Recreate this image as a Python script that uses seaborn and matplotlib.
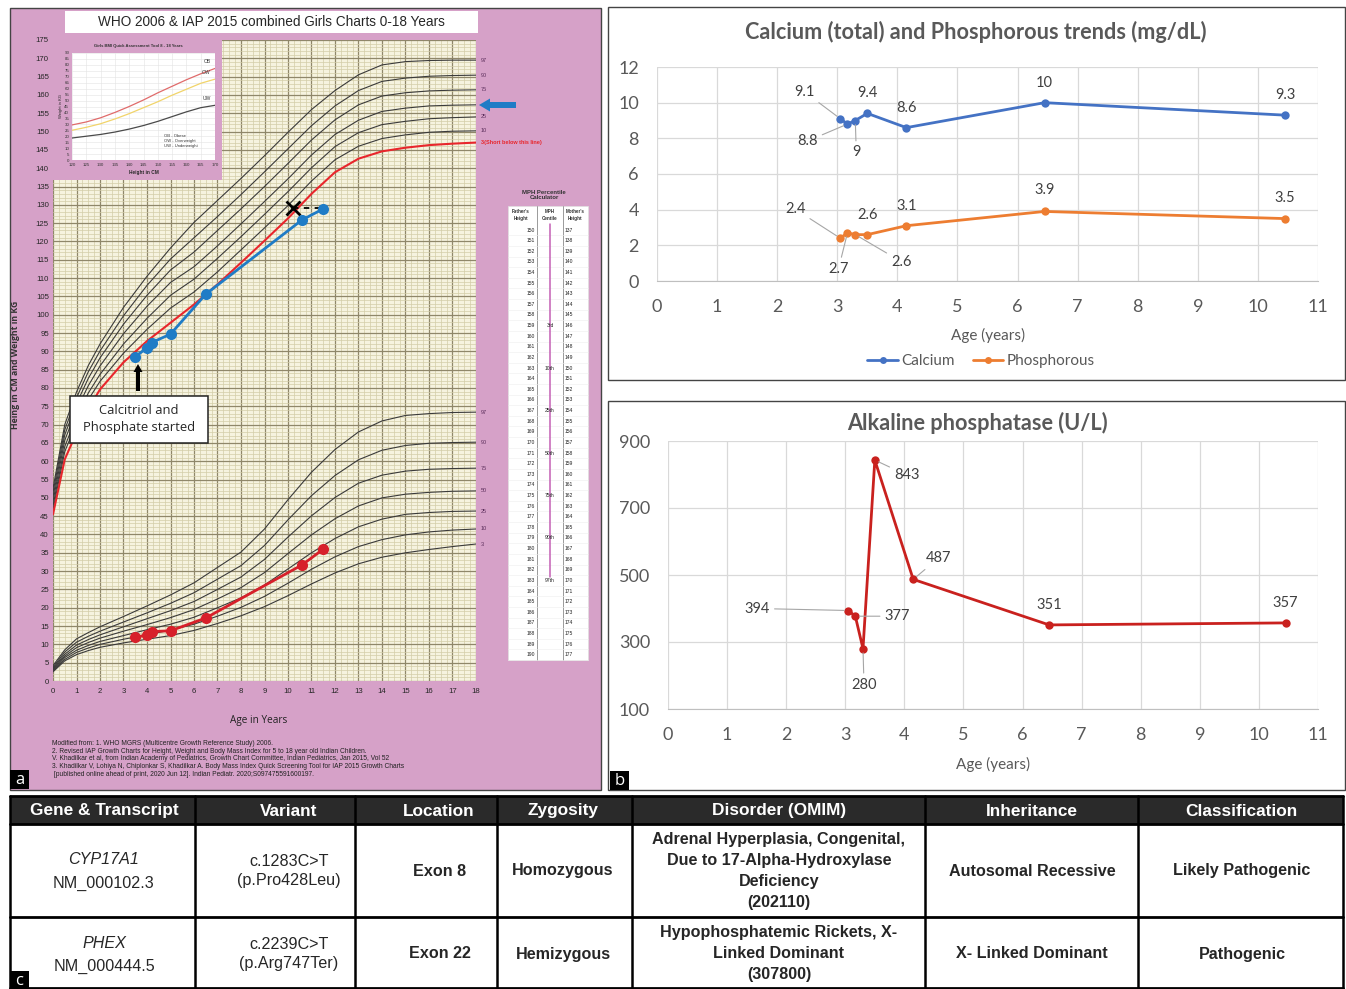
import matplotlib
matplotlib.use("Agg")
import matplotlib.pyplot as plt
import seaborn as sns
import pandas as pd
from matplotlib import font_manager
from matplotlib.patches import Rectangle, FancyArrow
from matplotlib.lines import Line2D
from matplotlib.ticker import MultipleLocator

# ---------------- data : growth chart (panel a) ----------------
ages = [0, 0.5, 1, 1.5, 2, 3, 4, 5, 6, 7, 8, 9, 10, 11, 12, 13, 14, 15, 16, 17, 18]
centiles = ["3", "10", "25", "50", "75", "90", "97"]

h3 = [45.5, 60.5, 67.8, 74.3, 79.6, 87.0, 92.8, 97.8, 102.8, 108.3, 114.2, 120.2, 126.3, 133.0, 138.9, 142.6, 144.6, 145.6, 146.3, 146.7, 147.0]
h10 = [46.8, 62.6, 70.5, 76.8, 81.8, 89.5, 96.0, 101.8, 106.2, 111.7, 117.7, 123.7, 129.8, 136.5, 142.3, 146.0, 148.1, 149.1, 149.8, 150.1, 150.2]
h25 = [47.9, 64.0, 72.1, 78.6, 83.7, 92.0, 99.0, 105.3, 109.7, 115.4, 121.3, 127.4, 133.6, 140.1, 145.9, 149.7, 151.9, 152.8, 153.5, 153.8, 154.0]
h50 = [49.1, 65.7, 74.0, 80.6, 86.0, 94.8, 102.3, 108.8, 113.1, 118.8, 124.8, 130.9, 137.1, 143.6, 149.2, 153.1, 155.5, 156.4, 157.0, 157.2, 157.3]
h75 = [50.3, 67.2, 75.7, 82.6, 88.2, 97.4, 105.3, 112.2, 117.1, 123.0, 128.9, 135.0, 141.3, 147.7, 153.2, 157.3, 159.7, 160.6, 161.1, 161.3, 161.4]
h90 = [51.5, 68.6, 77.3, 84.4, 90.1, 99.7, 108.0, 115.2, 121.0, 126.8, 132.8, 139.0, 145.3, 151.6, 157.0, 161.2, 163.7, 164.6, 165.1, 165.3, 165.4]
h97 = [52.6, 70.0, 78.9, 86.1, 92.0, 102.0, 110.5, 118.2, 125.2, 131.2, 137.2, 143.4, 149.8, 156.0, 161.2, 165.5, 168.2, 169.1, 169.4, 169.5, 169.5]

w3 = [2.5, 5.5, 7.2, 8.3, 9.2, 10.4, 11.4, 12.4, 13.8, 15.7, 17.8, 20.3, 23.3, 26.5, 29.5, 32.0, 33.8, 35.0, 35.9, 36.7, 37.4]
w10 = [2.7, 5.9, 7.8, 9.0, 10.0, 11.4, 12.6, 13.9, 15.5, 17.7, 20.1, 23.1, 26.7, 30.5, 33.9, 36.7, 38.6, 39.9, 40.7, 41.2, 41.5]
w25 = [3.0, 6.4, 8.4, 9.7, 10.8, 12.4, 14.0, 15.5, 17.4, 20.0, 22.7, 26.2, 30.6, 35.0, 38.9, 42.1, 44.2, 45.5, 46.0, 46.3, 46.4]
w50 = [3.25, 6.8, 9.1, 10.5, 11.7, 13.6, 15.4, 17.3, 19.5, 22.4, 25.5, 29.6, 34.8, 39.9, 44.3, 47.8, 50.0, 51.0, 51.5, 51.8, 51.9]
w75 = [3.5, 7.3, 9.8, 11.3, 12.6, 14.8, 17.0, 19.2, 21.7, 25.0, 28.4, 33.2, 39.3, 45.1, 50.1, 54.0, 56.2, 57.3, 57.8, 58.0, 58.1]
w90 = [3.8, 7.9, 10.6, 12.2, 13.6, 16.1, 18.6, 21.2, 24.1, 27.8, 31.5, 37.0, 44.0, 50.6, 56.1, 60.4, 63.0, 64.3, 64.9, 65.1, 65.2]
w97 = [4.2, 8.5, 11.5, 13.2, 14.8, 17.6, 20.5, 23.5, 26.8, 31.0, 35.2, 41.5, 49.5, 57.0, 63.2, 68.0, 71.0, 72.5, 73.0, 73.3, 73.4]

visit_age = [3.5, 4.0, 4.2, 5.0, 6.5, 10.6, 11.5]
patient_height = [88.5, 91.0, 92.4, 94.7, 105.6, 125.9, 128.9]
patient_weight = [11.9, 12.6, 13.5, 13.7, 17.2, 31.7, 36.0]
target_age = [10.2, 11.5]
target_height = [129.0, 129.0]

# BMI quick assessment inset
bmi_height = [120, 125, 130, 135, 140, 145, 150, 155, 160, 165, 170]
bmi_ob = [29.5, 32.0, 35.5, 40.0, 45.0, 50.5, 56.5, 62.0, 67.5, 72.5, 77.0]
bmi_ow = [25.0, 27.5, 30.5, 34.5, 39.0, 44.0, 49.0, 54.5, 59.5, 64.5, 68.0]
bmi_uw = [18.5, 20.0, 21.5, 23.5, 26.0, 29.0, 32.5, 36.5, 40.5, 44.0, 46.0]

# MPH calculator table
father_h = list(range(150, 191))
mother_h = list(range(137, 178))
mph_rows = {159: "3rd", 163: "10th", 167: "25th", 171: "50th", 175: "75th", 179: "90th", 183: "97th"}

# ---------------- data : lab trends (panel b) ----------------
lab_age = [3.05, 3.17, 3.3, 3.5, 4.15, 6.45, 10.45]
calcium = [9.1, 8.8, 9.0, 9.4, 8.6, 10.0, 9.3]
phosphorous = [2.4, 2.7, 2.6, 2.6, 3.1, 3.9, 3.5]
alp = [394, 377, 280, 843, 487, 351, 357]

# ---------------- data : genetics table (panel c) ----------------
table_header = ["Gene & Transcript", "Variant", "Location", "Zygosity",
                "Disorder (OMIM)", "Inheritance", "Classification"]
row_cyp = ["CYP17A1\nNM_000102.3", "c.1283C>T\n(p.Pro428Leu)", "Exon 8", "Homozygous",
           "Adrenal Hyperplasia, Congenital,\nDue to 17-Alpha-Hydroxylase\nDeficiency\n(202110)",
           "Autosomal Recessive", "Likely Pathogenic"]
row_phex = ["PHEX\nNM_000444.5", "c.2239C>T\n(p.Arg747Ter)", "Exon 22", "Hemizygous",
            "Hypophosphatemic Rickets, X-\nLinked Dominant\n(307800)",
            "X- Linked Dominant", "Pathogenic"]

# ---------------- layout / style ----------------
sns.set_style("white")
plt.rcParams["font.family"] = ["Liberation Sans", "DejaVu Sans"]
names = {f.name for f in font_manager.fontManager.ttflist}
NARROW = "Liberation Sans Narrow" if "Liberation Sans Narrow" in names else "Liberation Sans"
TFS = 13.5 if NARROW == "Liberation Sans Narrow" else 11.6
LAB_FONT = ["Lato", "DejaVu Sans"]

PINK = "#d6a1c8"
BLUE = "#1f7cc6"
RED = "#d7202a"
GRAY_TXT = "#595959"

W, H = 1346, 989
fig = plt.figure(figsize=(W / 100, H / 100), dpi=100)


def rect(x0, y0, x1, y1):
    return [x0 / W, 1 - y1 / H, (x1 - x0) / W, (y1 - y0) / H]


def pixel_axes(label, z):
    a = fig.add_axes([0, 0, 1, 1], label=label, zorder=z)
    a.set_xlim(0, W)
    a.set_ylim(H, 0)
    a.axis("off")
    return a


bg = pixel_axes("bg", 0)
ov = pixel_axes("ov", 20)

# panel backgrounds
bg.add_patch(Rectangle((10, 8), 591, 782, facecolor=PINK, edgecolor="#444444", lw=1))
bg.add_patch(Rectangle((608, 7), 737, 373, facecolor="white", edgecolor="#444444", lw=1))
bg.add_patch(Rectangle((608, 401), 737, 389, facecolor="white", edgecolor="#444444", lw=1))

# ---------------- panel a : growth chart ----------------
gax = fig.add_axes(rect(53, 40, 476, 681), zorder=2)
gax.set_facecolor("#f6f3df")

h_long = pd.DataFrame({"age": ages * 6,
                       "value": h10 + h25 + h50 + h75 + h90 + h97,
                       "curve": sum([[c] * len(ages) for c in centiles[1:]], [])})
w_long = pd.DataFrame({"age": ages * 7,
                       "value": w3 + w10 + w25 + w50 + w75 + w90 + w97,
                       "curve": sum([[c] * len(ages) for c in centiles], [])})
sns.lineplot(data=h_long, x="age", y="value", units="curve", estimator=None,
             color="#3a3a3a", lw=0.8, ax=gax, legend=False)
sns.lineplot(data=w_long, x="age", y="value", units="curve", estimator=None,
             color="#3a3a3a", lw=0.8, ax=gax, legend=False)
sns.lineplot(x=ages, y=h3, color="#e8262c", lw=1.5, ax=gax)

gax.plot(target_age, target_height, ls=(0, (3, 3)), color="black", lw=1.3, zorder=4)
gax.plot(target_age[0], target_height[0], marker="x", ms=10, mew=2, color="black", zorder=5)
sns.lineplot(x=visit_age, y=patient_height, color=BLUE, lw=2, marker="o", ms=8,
             markeredgewidth=0, ax=gax, zorder=6)
sns.lineplot(x=visit_age, y=patient_weight, color=RED, lw=2, marker="o", ms=8,
             markeredgewidth=0, ax=gax, zorder=6)

gax.set_xlim(0, 18)
gax.set_ylim(0, 175)
gax.set_xticks(range(0, 19))
gax.set_yticks(range(0, 176, 5))
gax.xaxis.set_minor_locator(MultipleLocator(0.25))
gax.yaxis.set_minor_locator(MultipleLocator(1))
gax.grid(which="minor", color="#d3cda8", lw=0.5)
gax.grid(which="major", color="#8f876a", lw=0.9)
gax.set_axisbelow(True)
gax.tick_params(which="both", length=0, labelsize=5.6, pad=3)
gax.tick_params(axis="x", pad=5)
gax.set_xlabel("")
gax.set_ylabel("")
for s in gax.spines.values():
    s.set_visible(False)

# percentile labels on the right
for c, v in zip(["97", "90", "75", "25", "10"], [h97[-1], h90[-1], h75[-1], h25[-1], h10[-1]]):
    gax.text(18.2, v, c, fontsize=4, color="#5a2d5a", va="center", clip_on=False)
gax.text(18.2, h3[-1], "3(Short below this line)", fontsize=4, color="#e8262c",
         va="center", clip_on=False, fontweight="bold")
for c, v in zip(centiles, [w3[-1], w10[-1], w25[-1], w50[-1], w75[-1], w90[-1], w97[-1]]):
    gax.text(18.2, v, c, fontsize=4, color="#5a2d5a", va="center", clip_on=False)

# BMI inset
ins_bg = fig.add_axes(rect(53, 40, 222, 180), zorder=4)
ins_bg.set_facecolor(PINK)
ins_bg.set_xticks([])
ins_bg.set_yticks([])
for s in ins_bg.spines.values():
    s.set_visible(False)

ins = fig.add_axes(rect(72, 53, 215, 160), zorder=5)
ins.set_facecolor("white")
bmi_long = pd.DataFrame({"height": bmi_height * 3, "weight": bmi_ob + bmi_ow + bmi_uw,
                         "cat": ["OB"] * 11 + ["OW"] * 11 + ["UW"] * 11})
sns.lineplot(data=bmi_long, x="height", y="weight", hue="cat",
             palette={"OB": "#e06b6b", "OW": "#f1d46a", "UW": "#4a4a4a"},
             lw=0.9, ax=ins, legend=False)
ins.set_xlim(120, 170)
ins.set_ylim(0, 90)
ins.set_xticks(bmi_height)
ins.set_yticks(range(0, 91, 5))
ins.grid(color="#e4e4e4", lw=0.4)
ins.tick_params(length=0, labelsize=3.2, pad=2, colors="#333333")
ins.set_xlabel("Height in CM", fontsize=3.4, fontweight="bold", labelpad=2)
ins.set_ylabel("Weight in KG", fontsize=3.0, labelpad=1)
for s in ins.spines.values():
    s.set_visible(False)
for lab, v in zip(["OB", "OW", "UW"], [bmi_ob[-1], bmi_ow[-1], bmi_uw[-1]]):
    ins.text(168.5, v + 4.5, lab, fontsize=3.6, ha="right", color="#333333")
ins.text(152, 16, "OB - Obese\nOW - Overweight\nUW - Underweight", fontsize=3.0,
         va="center", linespacing=1.3, color="#333333")
ov.text(138, 46, "Girls BMI Quick Assessment Tool 8 - 18 Years", fontsize=3.0,
        fontweight="bold", ha="center", va="center", color="#333333")

# title box
ov.add_patch(Rectangle((65, 11), 413, 22, facecolor="white", edgecolor="none"))
ov.text(271, 22.5, "WHO 2006 & IAP 2015 combined Girls Charts 0-18 Years",
        fontsize=9.8, ha="center", va="center")

# blue arrow at the 50th centile, black arrow + box
ov.add_patch(FancyArrow(516, 105, -37, 0, width=6, head_width=13, head_length=11,
                        length_includes_head=True, color=BLUE, lw=0))
ov.add_patch(FancyArrow(138, 391, 0, -27, width=4, head_width=9, head_length=8,
                        length_includes_head=True, color="black", lw=0))
ov.add_patch(Rectangle((70, 396), 138, 47, facecolor="white", edgecolor="#222222", lw=1.1))
ov.text(139, 419, "Calcitriol and\nPhosphate started", fontsize=9.4, ha="center",
        va="center", linespacing=1.45, family=["Open Sans", "DejaVu Sans"])

# MPH percentile calculator
ov.text(544, 195, "MPH Percentile\nCalculator", fontsize=4.3, fontweight="bold",
        ha="center", va="center", linespacing=1.1, color="#333333")
ov.add_patch(Rectangle((508, 206), 80, 454, facecolor="white", edgecolor="#e0e0e0", lw=0.5))
for x, t in [(521, "Father's\nHeight"), (550, "MPH\nCentile"), (575, "Mother's\nHeight")]:
    ov.text(x, 215, t, fontsize=3.3, fontweight="bold", ha="center", va="center",
            linespacing=1.3, color="#333333")
ov.plot([537, 537], [206, 660], color="#9a9a9a", lw=0.7)
ov.plot([563, 563], [206, 660], color="#9a9a9a", lw=0.7)
row_y0, row_dy = 230.0, 10.62
for i, (fh, mh) in enumerate(zip(father_h, mother_h)):
    y = row_y0 + i * row_dy
    ov.plot([508, 588], [y + row_dy / 2, y + row_dy / 2], color="#eeeeee", lw=0.4)
    ov.text(535, y, str(fh), fontsize=3.6, ha="right", va="center", color="#222222")
    ov.text(565, y, str(mh), fontsize=3.6, ha="left", va="center", color="#222222")
ov.plot([550, 550], [224, 577], color="#c35fb4", lw=1.1)
for fh, lab in mph_rows.items():
    y = row_y0 + (fh - father_h[0]) * row_dy
    ov.text(550, y, lab, fontsize=3.6, ha="center", va="center", color="#222222")

# axis labels & footnote
ov.text(16, 365, "Heing in CM and Weight in KG", rotation=90, fontsize=6.3,
        fontweight="bold", ha="center", va="center", color="#333333",
        family=["Open Sans", "DejaVu Sans"])
ov.text(259, 721, "Age in Years", fontsize=7.2, ha="center", va="center",
        family=["Open Sans", "DejaVu Sans"], color="#222222")
foot = ("Modified from: 1. WHO MGRS (Multicentre Growth Reference Study) 2006.\n"
        "2. Revised IAP Growth Charts for Height, Weight and Body Mass Index for 5 to 18 year old Indian Children.\n"
        "V. Khadilkar et al, from Indian Academy of Pediatrics, Growth Chart Committee, Indian Pediatrics, Jan 2015, Vol 52\n"
        "3. Khadilkar V, Lohiya N, Chiplonkar S, Khadilkar A. Body Mass Index Quick Screening Tool for IAP 2015 Growth Charts\n"
        " [published online ahead of print, 2020 Jun 12]. Indian Pediatr. 2020;S097475591600197.")
ov.text(52, 759, foot, fontsize=4.8, ha="left", va="center", linespacing=1.15, color="#222222")

# ---------------- panel b : lab trends ----------------
lab_long = pd.DataFrame({"age": lab_age * 2, "value": calcium + phosphorous,
                         "analyte": ["Calcium"] * 7 + ["Phosphorous"] * 7})
pal = {"Calcium": "#4472c4", "Phosphorous": "#ed7d31"}


def style_lab(ax, ylim, yticks):
    ax.set_xlim(0, 11)
    ax.set_ylim(*ylim)
    ax.set_xticks(range(0, 12))
    ax.set_yticks(yticks)
    ax.grid(True, color="#d9d9d9", lw=0.9)
    ax.set_axisbelow(True)
    for k, s in ax.spines.items():
        s.set_visible(k == "bottom")
    ax.spines["bottom"].set_color("#bfbfbf")
    ax.tick_params(length=0, labelsize=13, colors=GRAY_TXT, pad=13)
    for t in ax.get_xticklabels() + ax.get_yticklabels():
        t.set_family(LAB_FONT)
    ax.set_xlabel("")
    ax.set_ylabel("")


def label_points(ax, xs, ys, offsets, leaders):
    for x, y, (dx, dy), lead in zip(xs, ys, offsets, leaders):
        ax.annotate(f"{y:g}", xy=(x, y), xytext=(dx * 0.72, dy * 0.72),
                    textcoords="offset points", ha="center", va="center",
                    fontsize=10.5, color="#404040", family=LAB_FONT,
                    arrowprops=dict(arrowstyle="-", color="#a6a6a6", lw=0.8,
                                    shrinkA=1, shrinkB=3) if lead else None)


cax = fig.add_axes(rect(657, 67, 1318, 281), zorder=2)
sns.lineplot(data=lab_long, x="age", y="value", hue="analyte", palette=pal, marker="o",
             ms=6, markeredgewidth=0, lw=2, ax=cax, legend=False)
style_lab(cax, (0, 12), range(0, 13, 2))
label_points(cax, lab_age, calcium,
             [(-36, 27), (-40, -17), (1, -32), (0, 20), (0, 20), (0, 20), (0, 20)],
             [True, True, True, False, False, False, False])
label_points(cax, lab_age, phosphorous,
             [(-45, 29), (-9, -36), (46, -27), (0, 20), (0, 20), (0, 21), (0, 21)],
             [True, True, True, False, False, False, False])
handles = [Line2D([], [], color=pal[k], marker="o", ms=5, lw=2, markeredgewidth=0) for k in pal]
cax.legend(handles, list(pal), loc="center", bbox_to_anchor=(981 / W, 1 - 361 / H),
           bbox_transform=fig.transFigure, ncol=2, frameon=False, handlelength=2,
           columnspacing=1.2, handletextpad=0.2,
           prop={"family": LAB_FONT, "size": 11}, labelcolor=GRAY_TXT)

aax = fig.add_axes(rect(668, 441, 1318, 709), zorder=2)
sns.lineplot(x=lab_age, y=alp, color="#c9211e", marker="o", ms=6,
             markeredgewidth=0, lw=2, ax=aax)
style_lab(aax, (100, 900), [100, 300, 500, 700, 900])
label_points(aax, lab_age, alp,
             [(-91, 2), (42, 0), (1, -36), (32, -15), (25, 21), (0, 20), (0, 20)],
             [True, True, True, True, True, False, False])

for (x, y), t in [((976, 32), "Calcium (total) and Phosphorous trends (mg/dL)"),
                  ((977, 423), "Alkaline phosphatase (U/L)")]:
    ov.text(x, y, t, fontsize=15.6, fontweight="bold", color=GRAY_TXT, ha="center",
            va="center", family=LAB_FONT)
for x, y in [(988, 335), (993, 764)]:
    ov.text(x, y, "Age (years)", fontsize=11, color=GRAY_TXT, ha="center", va="center",
            family=LAB_FONT)

# ---------------- panel c : genetics table ----------------
TX0, TX1, TY0, TY1 = 10, 1343, 796, 989
col_edges = [10, 195, 355, 497, 632, 925, 1138, 1343]
ov.add_patch(Rectangle((TX0, TY0), TX1 - TX0, TY1 - TY0, facecolor="white", edgecolor="none"))
ov.add_patch(Rectangle((TX0, TY0), TX1 - TX0, 28, facecolor="#2a2a2a", edgecolor="none"))
for x in col_edges:
    ov.plot([x, x], [TY0, TY1], color="black", lw=1.8)
for y in [TY0, 824, 917, TY1 - 1]:
    ov.plot([TX0, TX1], [y, y], color="black", lw=2)

head_x = [104, 289, 439, 563, 779, 1032, 1241]
for x, t in zip(head_x, table_header):
    ov.text(x, 811, t, fontsize=TFS + 0.8, color="white", fontweight="bold", ha="center",
            va="center", family=NARROW)

cell_x = [104, 289, 440, 563, 779, 1032, 1242]
for row, yc in [(row_cyp, 871), (row_phex, 954)]:
    for j, (x, t) in enumerate(zip(cell_x, row)):
        if j == 0:
            gene, tx = t.split("\n")
            ov.text(x, yc - 11, gene, fontsize=TFS, style="italic", ha="center",
                    va="center", family=NARROW)
            ov.text(x, yc + 12, tx, fontsize=TFS, ha="center", va="center", family=NARROW)
        elif j == 1:
            ov.text(x, yc, t, fontsize=TFS, ha="center", va="center",
                    linespacing=1.4, family=NARROW)
        else:
            ov.text(x, yc, t, fontsize=TFS, fontweight="bold", ha="center", va="center",
                    linespacing=1.5 if j == 4 else 1.2, family=NARROW)

# panel letters
for x, y, t in [(10, 770, "a"), (610, 771, "b"), (10, 971, "c")]:
    ov.add_patch(Rectangle((x, y), 19, 19, facecolor="black", edgecolor="none"))
    ov.text(x + 9.5, y + 10, t, color="white", fontsize=12, ha="center", va="center",
            family=["Open Sans", "DejaVu Sans"])

fig.savefig("out.png", dpi=100)
